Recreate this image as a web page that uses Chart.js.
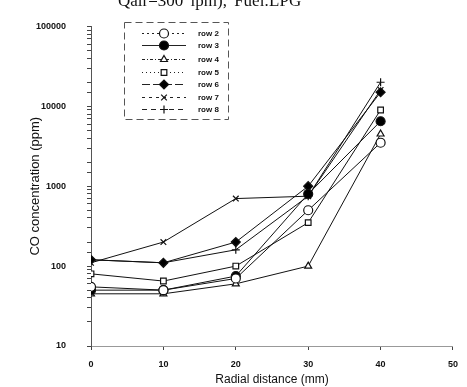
<!DOCTYPE html>
<html>
<head>
<meta charset="UTF-8">
<script src="https://cdn.jsdelivr.net/npm/chart.js"></script>
<style>
  body { margin: 0; background: #fff; }
  .wrap { position: relative; width: 467px; height: 387px; overflow: hidden; }
  #title {
    position: absolute; left: 118px; top: -9px;
    font-family: "Liberation Serif", "Times New Roman", serif;
    font-size: 17px; color: #111; white-space: nowrap; word-spacing: 3px;
  }
  canvas { position: absolute; left: 0; top: 0; }
</style>
</head>
<body>
<div class="wrap">
  <canvas id="chart" width="467" height="387"></canvas>
  <div id="title">Qair=300 lpm), Fuel:LPG</div>
</div>
<script>
// radial positions (mm)
var distances = [0, 10, 20, 30, 40];

// CO concentration (ppm) per row
var row2 = [55, 50, 70, 500, 3500];
var row3 = [50, 50, 75, 800, 6500];
var row4 = [45, 45, 60, 100, 4500];
var row5 = [80, 65, 100, 350, 9000];
var row6 = [120, 110, 200, 1000, 15000];
var row7 = [110, 200, 700, 750, 16000];
var row8 = [120, 110, 160, 750, 20000];

var seriesNames = ['row 2', 'row 3', 'row 4', 'row 5', 'row 6', 'row 7', 'row 8'];
var seriesValues = [row2, row3, row4, row5, row6, row7, row8];

// marker style per series
var markers = ['circle', 'circle', 'triangle', 'rect', 'rectRot', 'crossRot', 'cross'];
var fills = ['#fff', '#000', '#fff', '#fff', '#000', '#fff', '#fff'];
var legendDash = [[2, 3], [], [3, 2, 1, 2], [1, 3], [8, 3], [3, 4], [5, 4]];

var datasets = seriesNames.map(function (name, i) {
    return {
        label: name,
        data: distances.map(function (d, j) { return { x: d, y: seriesValues[i][j] }; }),
        borderColor: '#111',
        borderWidth: 1,
        backgroundColor: fills[i],
        pointStyle: markers[i],
        pointRadius: markers[i] === 'rectRot' || markers[i] === 'circle' ? 4.5 : 4,
        pointBorderColor: '#111',
        pointBorderWidth: 1.2,
        pointBackgroundColor: fills[i],
        showLine: true,
        tension: 0,
        legendDash: legendDash[i]
    };
});

// hand drawn legend box like the scanned figure
var boxLegend = {
    id: 'boxLegend',
    afterDraw: function (chart) {
        var ctx = chart.ctx;
        ctx.save();
        ctx.strokeStyle = '#555';
        ctx.lineWidth = 1;
        ctx.setLineDash([7, 4]);
        ctx.strokeRect(124.5, 22.5, 104, 97);
        var rows = [33, 45, 59, 72, 84, 97, 109];
        chart.data.datasets.forEach(function (ds, i) {
            var y = rows[i] + 0.5;
            ctx.strokeStyle = '#222';
            ctx.lineWidth = 1;
            ctx.setLineDash(ds.legendDash);
            ctx.beginPath();
            ctx.moveTo(142, y);
            ctx.lineTo(186, y);
            ctx.stroke();
            ctx.setLineDash([]);
            ctx.fillStyle = ds.pointBackgroundColor;
            ctx.strokeStyle = '#111';
            ctx.lineWidth = 1.2;
            Chart.helpers.drawPoint(ctx, {
                pointStyle: ds.pointStyle,
                radius: ds.pointRadius,
                borderWidth: 1.2,
                rotation: 0
            }, 164, y);
            ctx.fillStyle = '#111';
            ctx.font = 'bold 8px "Liberation Sans", Arial, sans-serif';
            ctx.textBaseline = 'middle';
            ctx.fillText(ds.label, 198, y + 0.5);
        });
        ctx.restore();
    }
};

var ctx = document.getElementById('chart').getContext('2d');
var chart = new Chart(ctx, {
    type: 'scatter',
    data: { datasets: datasets },
    options: {
        responsive: false,
        animation: false,
        layout: { padding: { top: 14, right: 11, left: 0, bottom: 0 } },
        plugins: {
            legend: { display: false },
            tooltip: { enabled: false }
        },
        scales: {
            x: {
                type: 'linear',
                min: 0,
                max: 50,
                afterFit: function (s) { s.height = 41; },
                border: { display: true, color: '#999', dash: [2, 4], width: 1 },
                grid: { drawOnChartArea: false, tickLength: 4, color: '#444' },
                ticks: {
                    stepSize: 10,
                    padding: 9,
                    color: '#111',
                    font: { family: '"Liberation Sans", Arial, sans-serif', size: 9, weight: 'bold' }
                },
                title: {
                    display: true,
                    text: 'Radial distance (mm)',
                    color: '#111',
                    padding: { top: 0, bottom: 0 },
                    font: { family: '"Liberation Sans", Arial, sans-serif', size: 12 }
                }
            },
            y: {
                type: 'logarithmic',
                min: 10,
                max: 100000,
                afterFit: function (s) { s.width = 91; },
                border: { display: true, color: '#555', width: 1 },
                grid: { drawOnChartArea: false, tickLength: 4, color: '#444' },
                ticks: {
                    autoSkip: false,
                    padding: 21,
                    color: '#111',
                    font: { family: '"Liberation Sans", Arial, sans-serif', size: 9, weight: 'bold' },
                    callback: function (v) {
                        var p = Math.log10(v);
                        return Math.abs(p - Math.round(p)) < 1e-9 ? String(v) : '';
                    }
                },
                title: {
                    display: true,
                    text: 'CO concentration (ppm)',
                    color: '#111',
                    padding: { top: 28, bottom: 0 },
                    font: { family: '"Liberation Sans", Arial, sans-serif', size: 13 }
                }
            }
        }
    },
    plugins: [boxLegend]
});
</script>
</body>
</html>
